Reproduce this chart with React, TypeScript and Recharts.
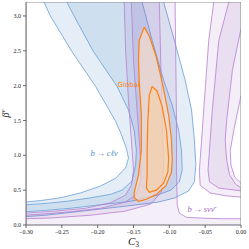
import React from "react";
import { ScatterChart, Scatter, XAxis, YAxis, Label } from "recharts";

type Pt = { x: number; y: number };

const X_DOMAIN: [number, number] = [-0.3, 0];
const Y_DOMAIN: [number, number] = [0, 3.2];
const xTicks = [-0.3, -0.25, -0.2, -0.15, -0.1, -0.05, 0];
const yTicks = [0, 0.5, 1, 1.5, 2, 2.5, 3];

const toPts = (rows: number[][]): Pt[] => rows.map(([x, y]) => ({ x, y }));

// b -> c l nu contours: each one runs from the top edge, round the bend, back to the left edge
const clnOuterLeft = toPts([[-0.275, 3.2], [-0.266, 3.0], [-0.236, 2.49], [-0.203, 1.99], [-0.175, 1.49], [-0.167, 1.3], [-0.16, 1.1], [-0.157, 0.96], [-0.161, 0.82], [-0.175, 0.67], [-0.196, 0.56], [-0.224, 0.46], [-0.252, 0.39], [-0.28, 0.35], [-0.3, 0.33]]);
const clnInnerLeft = toPts([[-0.243, 3.2], [-0.233, 3.0], [-0.206, 2.49], [-0.173, 1.99], [-0.157, 1.65], [-0.149, 1.36], [-0.146, 1.07], [-0.147, 0.86], [-0.152, 0.63], [-0.166, 0.5], [-0.182, 0.44], [-0.21, 0.39], [-0.243, 0.34], [-0.273, 0.31], [-0.3, 0.29]]);
const clnInnerRight = toPts([[-0.138, 3.2], [-0.124, 2.65], [-0.108, 2.08], [-0.096, 1.72], [-0.087, 1.36], [-0.083, 1.07], [-0.082, 0.79], [-0.086, 0.62], [-0.098, 0.5], [-0.119, 0.42], [-0.154, 0.34], [-0.196, 0.29], [-0.238, 0.24], [-0.273, 0.21], [-0.3, 0.19]]);
const clnOuterRight = toPts([[-0.108, 3.2], [-0.093, 2.65], [-0.078, 2.08], [-0.069, 1.65], [-0.065, 1.22], [-0.063, 0.86], [-0.065, 0.62], [-0.073, 0.49], [-0.092, 0.39], [-0.115, 0.33], [-0.161, 0.27], [-0.196, 0.23], [-0.238, 0.18], [-0.273, 0.14], [-0.3, 0.12]]);

// b -> s nu nu contours, left arm + bottom strip
const snnOuter2 = toPts([[-0.163, 3.2], [-0.161, 2.51], [-0.157, 1.79], [-0.153, 1.22], [-0.15, 0.79], [-0.153, 0.57], [-0.161, 0.43], [-0.182, 0.32], [-0.217, 0.24], [-0.259, 0.2], [-0.3, 0.17]]);
const snnOuter1 = toPts([[-0.153, 3.2], [-0.15, 2.36], [-0.144, 1.5], [-0.14, 0.93], [-0.14, 0.645], [-0.146, 0.44], [-0.161, 0.33], [-0.196, 0.24], [-0.238, 0.19], [-0.273, 0.16], [-0.3, 0.14]]);
const snnInner1 = toPts([[-0.114, 3.2], [-0.112, 2.36], [-0.11, 1.5], [-0.108, 0.79], [-0.111, 0.47], [-0.126, 0.3], [-0.161, 0.2], [-0.21, 0.14], [-0.266, 0.1], [-0.3, 0.09]]);
const snnInner2 = toPts([[-0.092, 3.2], [-0.091, 2.36], [-0.09, 1.5], [-0.09, 0.79], [-0.089, 0.29], [-0.086, 0.17], [-0.076, 0.11], [-0.057, 0.1], [-0.029, 0.09], [0, 0.09]]);
// b -> s nu nu contours, right arm
const snnRightIn2 = toPts([[-0.038, 3.2], [-0.045, 2.65], [-0.052, 1.65], [-0.058, 0.79], [-0.057, 0.57], [-0.043, 0.46], [-0.022, 0.42], [0, 0.4]]);
const snnRightIn1 = toPts([[-0.017, 3.2], [-0.031, 2.65], [-0.04, 1.65], [-0.046, 0.79], [-0.044, 0.62], [-0.031, 0.53], [0, 0.49]]);
const snnRightOut1 = toPts([[0, 2.82], [-0.012, 2.22], [-0.02, 1.5], [-0.022, 1.22], [-0.02, 0.93], [-0.016, 0.72], [-0.008, 0.59], [0, 0.53]]);
const snnRightOut2 = toPts([[0, 1.86], [-0.01, 1.36], [-0.015, 1.07], [-0.014, 0.86], [-0.009, 0.69], [0, 0.6]]);

// global fit
const global2 = toPts([[-0.135, 2.84], [-0.142, 2.65], [-0.143, 2.36], [-0.142, 2.05], [-0.139, 1.58], [-0.139, 1.07], [-0.143, 0.72], [-0.149, 0.47], [-0.149, 0.39], [-0.143, 0.34], [-0.132, 0.37], [-0.118, 0.44], [-0.105, 0.56], [-0.097, 0.76], [-0.096, 0.93], [-0.097, 1.22], [-0.101, 1.58], [-0.11, 2.05], [-0.119, 2.44], [-0.128, 2.71], [-0.135, 2.84]]);
const global1 = toPts([[-0.124, 1.99], [-0.128, 1.86], [-0.13, 1.5], [-0.131, 1.07], [-0.131, 0.72], [-0.132, 0.53], [-0.128, 0.47], [-0.118, 0.5], [-0.108, 0.6], [-0.102, 0.76], [-0.101, 0.96], [-0.104, 1.36], [-0.11, 1.7], [-0.117, 1.92], [-0.124, 1.99]]);

const cornerTL = { x: X_DOMAIN[0], y: Y_DOMAIN[1] };
const cornerTR = { x: X_DOMAIN[1], y: Y_DOMAIN[1] };
const cornerBL = { x: X_DOMAIN[0], y: Y_DOMAIN[0] };
const cornerBR = { x: X_DOMAIN[1], y: Y_DOMAIN[0] };

const rev = (a: Pt[]) => [...a].reverse();

const BLUE = "#377ebf";
const PURPLE = "#8a48ac";
const BLUE_LINE = "#6a9ed6";
const PURPLE_LINE = "#b87fd0";
const ORANGE = "#ff7f0e";

const fills = [
  { id: "cln2", data: [...clnOuterLeft, ...rev(clnOuterRight)], color: BLUE, op: 0.13 },
  { id: "cln1", data: [...clnInnerLeft, ...rev(clnInnerRight)], color: BLUE, op: 0.13 },
  { id: "snn2L", data: [...snnOuter2, cornerBL, cornerBR, ...rev(snnInner2)], color: PURPLE, op: 0.09 },
  { id: "snn1L", data: [...snnOuter1, ...rev(snnInner1)], color: PURPLE, op: 0.09 },
  { id: "snn2R", data: [...snnRightIn2, ...rev(snnRightOut2), cornerTR], color: PURPLE, op: 0.09 },
  { id: "snn1R", data: [...snnRightIn1, ...rev(snnRightOut1), cornerTR], color: PURPLE, op: 0.09 },
];

const blueLines = [clnOuterLeft, clnInnerLeft, clnInnerRight, clnOuterRight];
const purpleLines = [snnOuter2, snnOuter1, snnInner1, snnInner2, snnRightIn2, snnRightIn1, snnRightOut1, snnRightOut2];

const noDot = () => <g />;

const fmtX = (v: number) => (v < 0 ? "\u2212" : "") + Math.abs(v).toFixed(2);
const fmtY = (v: number) => v.toFixed(1);

const tickStyle = { fontSize: 6, fill: "#222", fontFamily: "Liberation Serif" };

const textAt = (text: string, color: string, font: string, size: number, italic: boolean) => (p: any) => (
  <text x={p.cx} y={p.cy} fill={color} fontSize={size} fontFamily={font} fontStyle={italic ? "italic" : "normal"}>
    {text}
  </text>
);

export default function App() {
  return (
    <div style={{ position: "absolute", left: 0, top: 0, width: 249, height: 249, background: "#fff" }}>
      <ScatterChart width={249} height={249} margin={{ top: 2, right: 8, bottom: 0, left: 0 }}>
        <XAxis
          type="number"
          dataKey="x"
          domain={X_DOMAIN}
          ticks={xTicks}
          tickFormatter={fmtX}
          allowDataOverflow
          height={24}
          tickSize={3}
          tick={tickStyle}
          axisLine={{ stroke: "#444", strokeWidth: 0.8 }}
          tickLine={{ stroke: "#444", strokeWidth: 0.8 }}
        >
          <Label
            content={(props: any) => {
              const vb = props.viewBox || { x: 26, y: 225, width: 215 };
              return (
                <text x={vb.x + vb.width / 2} y={vb.y + 20} textAnchor="middle" fontFamily="Liberation Serif" fontSize={11} fill="#222">
                  <tspan fontStyle="italic">C</tspan>
                  <tspan fontSize={7.5} dy={2}>3</tspan>
                </text>
              );
            }}
          />
        </XAxis>
        <YAxis
          type="number"
          dataKey="y"
          domain={Y_DOMAIN}
          ticks={yTicks}
          tickFormatter={fmtY}
          allowDataOverflow
          width={26}
          tickSize={3}
          tick={tickStyle}
          axisLine={{ stroke: "#444", strokeWidth: 0.8 }}
          tickLine={{ stroke: "#444", strokeWidth: 0.8 }}
        >
          <Label
            content={(props: any) => {
              const vb = props.viewBox || { x: 0, y: 2, width: 26, height: 223 };
              const cx = vb.x + 9;
              const cy = vb.y + vb.height / 2;
              return (
                <text x={cx} y={cy} textAnchor="middle" transform={`rotate(-90 ${cx} ${cy})`} fontFamily="Liberation Serif" fontSize={10} fill="#222">
                  <tspan fontStyle="italic">β</tspan>
                  <tspan fontSize={7} dy={-4} fontStyle="italic">ν</tspan>
                </text>
              );
            }}
          />
        </YAxis>

        {fills.slice(0, 2).map((f) => (
          <Scatter key={f.id} data={f.data} shape={noDot} isAnimationActive={false} line={{ fill: f.color, fillOpacity: f.op, stroke: "none" }} lineType="joint" />
        ))}
        {blueLines.map((d, i) => (
          <Scatter key={"bl" + i} data={d} shape={noDot} isAnimationActive={false} line={{ fill: "none", stroke: BLUE_LINE, strokeWidth: 0.8 }} lineType="joint" />
        ))}
        {fills.slice(2).map((f) => (
          <Scatter key={f.id} data={f.data} shape={noDot} isAnimationActive={false} line={{ fill: f.color, fillOpacity: f.op, stroke: "none" }} lineType="joint" />
        ))}
        {purpleLines.map((d, i) => (
          <Scatter key={"pl" + i} data={d} shape={noDot} isAnimationActive={false} line={{ fill: "none", stroke: PURPLE_LINE, strokeWidth: 0.8 }} lineType="joint" />
        ))}
        <Scatter data={global2} shape={noDot} isAnimationActive={false} line={{ fill: "#ffe0c6", fillOpacity: 0.6, stroke: ORANGE, strokeWidth: 1.2 }} lineType="joint" />
        <Scatter data={global1} shape={noDot} isAnimationActive={false} line={{ fill: "#ffcd8c", fillOpacity: 0.42, stroke: ORANGE, strokeWidth: 1.2 }} lineType="joint" />

        <Scatter data={[{ x: -0.1723, y: 1.98 }]} isAnimationActive={false} shape={textAt("Global", ORANGE, "DejaVu Sans", 7, false)} />
        <Scatter data={[{ x: -0.21, y: 0.99 }]} isAnimationActive={false} shape={textAt("b\u2009\u2192\u2009c\u2113\u03bd", "#5b8fc9", "Liberation Serif", 8.5, true)} />
        <Scatter data={[{ x: -0.0745, y: 0.186 }]} isAnimationActive={false} shape={textAt("b\u2009\u2192\u2009s\u03bd\u03bd\u0304", "#a66bc0", "Liberation Serif", 8.5, true)} />

        <Scatter data={[cornerBL, cornerTL, cornerTR, cornerBR]} shape={noDot} isAnimationActive={false} line={{ fill: "none", stroke: "#8a8a8a", strokeWidth: 1 }} lineType="joint" />
      </ScatterChart>
    </div>
  );
}
